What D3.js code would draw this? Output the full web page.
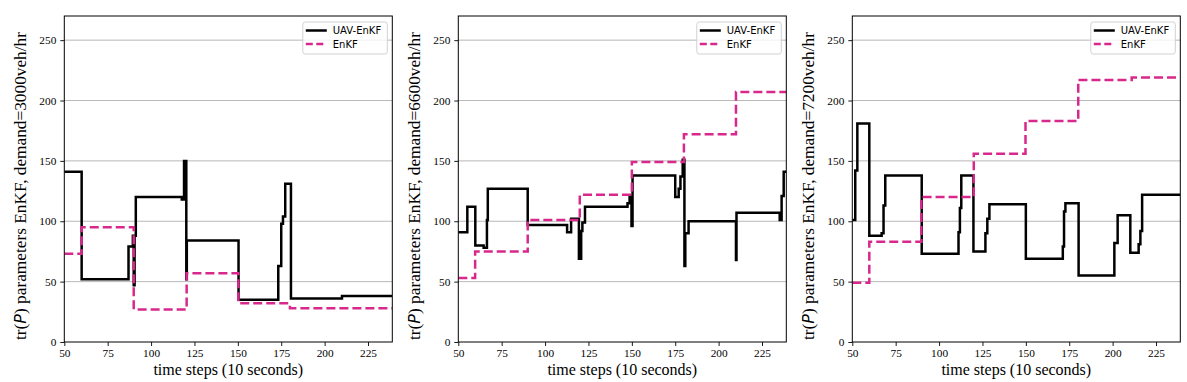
<!DOCTYPE html>
<html>
<head>
<meta charset="utf-8">
<script src="https://cdn.jsdelivr.net/npm/d3@7"></script>
<style>
  body { margin: 0; background: #fff; }
</style>
</head>
<body>
<script>
// shared axis setup
var xTicks = [50, 75, 100, 125, 150, 175, 200, 225];
var yTicks = [0, 50, 100, 150, 200, 250];
var xDomain = [50, 239];
var yDomain = [0, 270];
var demands = ["3000", "6600", "7200"];
var seriesNames = ["UAV-EnKF", "EnKF"];

// step series: [time step, value] — value holds until the next step
var uav3000 = [[50, 141], [60, 52], [87, 79], [89.5, 88], [90, 47], [90.5, 88], [91.2, 120],
    [117.7, 118], [119, 150], [119.5, 120], [120, 150], [120.3, 52], [120.6, 84],
    [150.4, 35], [173.3, 63], [175, 98], [176, 104], [177.3, 131], [180.6, 36], [210, 38], [239, 38]];
var enkf3000 = [[50, 73], [60, 95], [90, 27], [120.5, 57], [150.3, 32], [180, 28], [239, 28]];

var uav6600 = [[50, 91], [55.2, 112], [59.8, 80], [64.6, 78], [66.5, 101], [67, 127], [90, 97],
    [112.7, 91], [115, 102], [119.5, 69], [120.8, 92], [121.5, 99], [123, 112], [147.5, 115],
    [148.7, 120], [149.8, 96], [150.4, 138], [175, 120], [177, 127], [178, 137], [179.3, 151],
    [180.3, 63], [180.8, 90], [182.7, 100], [210, 68], [210.3, 107], [235.2, 101], [236.3, 121],
    [237.5, 141], [239, 141]];
var enkf6600 = [[50, 53], [59.7, 75], [90, 101], [120, 122], [150, 149], [180, 172], [210, 207], [239, 207]];

var uav7200 = [[50, 101], [51.7, 142], [52.9, 181], [59.8, 88], [66.9, 90], [68, 113], [69, 138],
    [90, 73], [111.2, 91], [112, 111], [112.8, 138], [119.8, 75], [126.7, 90], [127.8, 102],
    [129, 114], [150, 69], [171.3, 79], [172, 108], [172.8, 115], [180.4, 55], [201, 82],
    [202.9, 105], [210.2, 74], [215, 81], [216, 92], [217, 122], [239, 122]];
var enkf7200 = [[50, 49], [59.8, 83], [89.8, 120], [120, 156], [149.8, 183], [180.2, 217], [211, 219], [239, 219]];

var panels = [
    { demand: demands[0], uav: uav3000, enkf: enkf3000, left: 64.3 },
    { demand: demands[1], uav: uav6600, enkf: enkf6600, left: 458.3 },
    { demand: demands[2], uav: uav7200, enkf: enkf7200, left: 852.3 }
];

var W = 1187, H = 382;
var pw = 328, plotTop = 16, plotBottom = 342;
var pink = "#d8288c";
var serif = "'Liberation Serif', 'Times New Roman', serif";

var svg = d3.select("body").append("svg")
    .attr("width", W)
    .attr("height", H);

panels.forEach(function (p) {
    var x = d3.scaleLinear().domain(xDomain).range([p.left, p.left + pw]);
    var y = d3.scaleLinear().domain(yDomain).range([plotBottom, plotTop]);

    var g = svg.append("g");

    // horizontal grid
    g.selectAll("line.grid")
        .data(yTicks.filter(function (d) { return d > 0; }))
        .enter().append("line")
        .attr("class", "grid")
        .attr("x1", p.left).attr("x2", p.left + pw)
        .attr("y1", function (d) { return y(d); })
        .attr("y2", function (d) { return y(d); })
        .attr("stroke", "#b0b0b0")
        .attr("stroke-width", 0.9);

    var line = d3.line()
        .x(function (d) { return x(d[0]); })
        .y(function (d) { return y(d[1]); })
        .curve(d3.curveStepAfter);

    var clipId = "clip" + p.demand;
    svg.append("clipPath").attr("id", clipId)
        .append("rect")
        .attr("x", p.left).attr("y", plotTop)
        .attr("width", pw).attr("height", plotBottom - plotTop);

    var plot = g.append("g").attr("clip-path", "url(#" + clipId + ")");

    plot.append("path")
        .datum(p.uav)
        .attr("d", line)
        .attr("fill", "none")
        .attr("stroke", "#000")
        .attr("stroke-width", 2.5);

    plot.append("path")
        .datum(p.enkf)
        .attr("d", line)
        .attr("fill", "none")
        .attr("stroke", pink)
        .attr("stroke-width", 2.5)
        .attr("stroke-dasharray", "9,4");

    // axes
    var xAxis = g.append("g")
        .attr("transform", "translate(0," + plotBottom + ")")
        .call(d3.axisBottom(x).tickValues(xTicks).tickSize(4).tickPadding(3));
    var yAxis = g.append("g")
        .attr("transform", "translate(" + p.left + ",0)")
        .call(d3.axisLeft(y).tickValues(yTicks).tickSize(4).tickPadding(4));

    [xAxis, yAxis].forEach(function (a) {
        a.select(".domain").remove();
        a.selectAll("line").attr("stroke", "#000").attr("stroke-width", 0.9);
        a.selectAll("text")
            .attr("fill", "#000")
            .style("font-family", serif)
            .style("font-size", "11.3px");
    });

    // frame
    g.append("rect")
        .attr("x", p.left).attr("y", plotTop)
        .attr("width", pw).attr("height", plotBottom - plotTop)
        .attr("fill", "none")
        .attr("stroke", "#000")
        .attr("stroke-width", 1);

    // axis titles
    g.append("text")
        .attr("x", p.left + pw / 2)
        .attr("y", 375)
        .attr("text-anchor", "middle")
        .style("font-family", serif)
        .style("font-size", "16px")
        .text("time steps (10 seconds)");

    var yl = g.append("text")
        .attr("transform", "translate(" + (p.left - 38) + ",186) rotate(-90)")
        .attr("text-anchor", "middle")
        .style("font-family", serif)
        .style("font-size", "17.3px");
    yl.append("tspan").text("tr(");
    yl.append("tspan")
        .style("font-family", "'DejaVu Sans', sans-serif")
        .style("font-style", "italic")
        .style("font-size", "16px")
        .text("P");
    yl.append("tspan").text(") parameters EnKF, demand=" + p.demand + "veh/hr");

    // legend
    var lx = p.left + pw - 89.5, ly = plotTop + 6;
    var lg = g.append("g");
    lg.append("rect")
        .attr("x", lx).attr("y", ly)
        .attr("width", 84.5).attr("height", 32)
        .attr("rx", 2.5)
        .attr("fill", "#fff")
        .attr("fill-opacity", 0.8)
        .attr("stroke", "#cccccc")
        .attr("stroke-width", 0.9);
    seriesNames.forEach(function (name, i) {
        var yy = ly + 8.5 + i * 13.5;
        lg.append("line")
            .attr("x1", lx + 3).attr("x2", lx + 24)
            .attr("y1", yy).attr("y2", yy)
            .attr("stroke", i === 0 ? "#000" : pink)
            .attr("stroke-width", 2.5)
            .attr("stroke-dasharray", i === 0 ? null : "7,3.5");
        lg.append("text")
            .attr("x", lx + 30)
            .attr("y", yy + 3.5)
            .style("font-family", "'DejaVu Sans', sans-serif")
            .style("font-size", "10px")
            .text(name);
    });
});
</script>
</body>
</html>
